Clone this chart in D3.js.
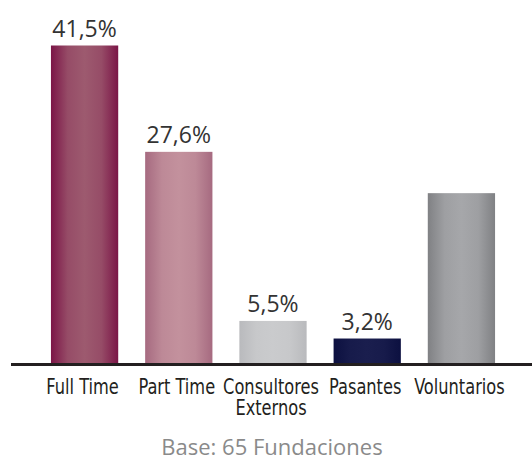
<!DOCTYPE html>
<html lang="es">
<head>
  <meta charset="utf-8">
  <title>Personal de las fundaciones</title>
  <style>
  html, body {padding: 0; margin: 0; overflow: hidden; background: #fff}
  text {font-family: "DejaVu Sans Condensed", "DejaVu Sans", sans-serif; font-stretch: condensed}
</style>
</head>
<body>
  <svg width="532" height="463"></svg>
  <script src="https://d3js.org/d3.v7.min.js"></script>
  <script>

  var categories = [["Full Time"], ["Part Time"], ["Consultores", "Externos"], ["Pasantes"], ["Voluntarios"]];
  var values = [41.5, 27.6, 5.5, 3.2, 22.2];
  var valueLabels = ["41,5%", "27,6%", "5,5%", "3,2%", ""];
  // edge colour, centre colour
  var barColors = [["#7b1547", "#9d5a6f"], ["#a66a80", "#c3919d"], ["#b9babd", "#cacbcd"], ["#0c1040", "#1a1e4e"], ["#808184", "#a6a7aa"]];
  var footnote = "Base: 65 Fundaciones";

  var svg = d3.select("svg"),
      width = 532,
      baseY = 363;

  var x = d3.scaleBand()
    .domain(d3.range(values.length))
    .range([24, 522])
    .padding(0.286);

  var y = d3.scaleLinear()
    .domain([0, 41.5])
    .range([baseY, 45.5]);

  var defs = svg.append("defs");
  barColors.forEach(function(c, i) {
    var g = defs.append("linearGradient")
      .attr("id", "g" + i)
      .attr("x1", "0").attr("x2", "1").attr("y1", "0").attr("y2", "0");
    g.append("stop").attr("offset", "0%").attr("stop-color", c[0]);
    g.append("stop").attr("offset", "25%").attr("stop-color", d3.interpolateRgb(c[0], c[1])(0.8));
    g.append("stop").attr("offset", "50%").attr("stop-color", c[1]);
    g.append("stop").attr("offset", "75%").attr("stop-color", d3.interpolateRgb(c[0], c[1])(0.8));
    g.append("stop").attr("offset", "100%").attr("stop-color", c[0]);
  });

  svg.selectAll("rect.bar")
    .data(values)
    .enter().append("rect")
      .attr("class", "bar")
      .attr("x", function(d, i) { return x(i); })
      .attr("y", function(d) { return y(d); })
      .attr("width", x.bandwidth())
      .attr("height", function(d) { return baseY - y(d); })
      .attr("fill", function(d, i) { return "url(#g" + i + ")"; });

  svg.selectAll("text.value")
    .data(values)
    .enter().append("text")
      .attr("class", "value")
      .attr("x", function(d, i) { return x(i) + x.bandwidth() / 2; })
      .attr("y", function(d) { return y(d) - 9; })
      .attr("text-anchor", "middle")
      .attr("font-size", "23px")
      .attr("fill", "#333")
      .style("font-family", "'Open Sans', sans-serif")
      .style("font-stretch", "normal")
      .text(function(d, i) { return valueLabels[i]; });

  svg.append("line")
    .attr("x1", 11).attr("x2", width)
    .attr("y1", baseY + 1.5).attr("y2", baseY + 1.5)
    .attr("stroke", "#231f20")
    .attr("stroke-width", 3);

  // labels are squeezed a bit to mimic the condensed face of the original
  var cat = svg.selectAll("g.cat")
    .data(categories)
    .enter().append("g")
      .attr("class", "cat")
      .attr("transform", function(d, i) { return "translate(" + (x(i) + x.bandwidth() / 2 - 2) + ",394) scale(0.88,1)"; })
    .append("text")
      .attr("text-anchor", "middle")
      .attr("font-size", "20.5px")
      .attr("fill", "#231f20");

  cat.selectAll("tspan")
    .data(function(d) { return d; })
    .enter().append("tspan")
      .attr("x", 0)
      .attr("y", function(d, j) { return j * 21; })
      .text(function(d) { return d; });

  svg.append("text")
    .attr("x", 272)
    .attr("y", 455)
    .attr("text-anchor", "middle")
    .attr("font-size", "22px")
    .attr("fill", "#8a8a8a")
    .style("font-family", "'Open Sans', sans-serif")
    .style("font-stretch", "normal")
    .text(footnote);

  </script>
</body>
</html>
